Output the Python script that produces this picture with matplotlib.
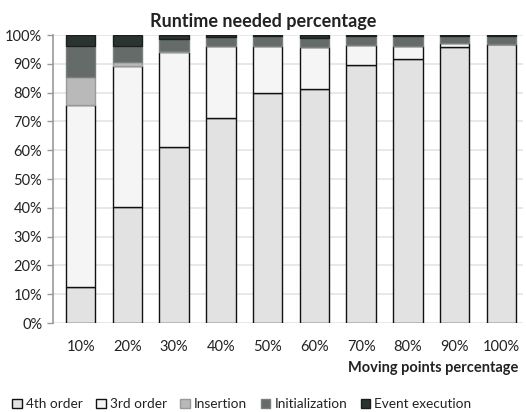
import matplotlib.pyplot as plt
import numpy as np

plt.rcParams['font.family'] = ['Lato', 'DejaVu Sans']

moving = ['10%', '20%', '30%', '40%', '50%', '60%', '70%', '80%', '90%', '100%']
fourth = [12.5, 40.3, 61.1, 71.3, 79.8, 81.4, 89.6, 91.7, 96.0, 96.8]
third = [63.3, 49.0, 33.1, 25.0, 16.5, 14.6, 7.0, 4.6, 1.3, 0.1]
insertion = [9.5, 1.2, 0.3, 0.0, 0.0, 0.0, 0.0, 0.0, 0.0, 0.0]
initialization = [10.9, 5.7, 4.0, 3.1, 3.2, 3.0, 2.9, 3.2, 2.2, 2.6]
event = [3.8, 3.8, 1.5, 0.6, 0.5, 1.0, 0.5, 0.5, 0.5, 0.5]

series = [('4th order', fourth, '#e2e2e2', '#111111'),
          ('3rd order', third, '#f4f5f4', '#111111'),
          ('Insertion', insertion, '#b9b9b9', '#9a9a9a'),
          ('Initialization', initialization, '#646b69', '#7a7f7e'),
          ('Event execution', event, '#2b3331', '#1a1f1e')]

fig = plt.figure(figsize=(5.26, 4.12), dpi=100)
ax = fig.add_axes([0.1, 0.216, 0.895, 0.699])

x = np.arange(len(moving))
bottom = np.zeros(len(moving))
for name, vals, color, edge in series:
    ax.bar(x, vals, 0.63, bottom=bottom, color=color, edgecolor=edge,
           linewidth=1.0, label=name, zorder=3)
    bottom += np.array(vals)

ax.set_ylim(0, 100)
ax.set_xlim(-0.6, 9.47)
ax.set_yticks(np.arange(0, 101, 10))
ax.set_yticklabels([f'{v}%' for v in range(0, 101, 10)], fontsize=10.5, color='#222222')
ax.set_xticks(x)
ax.set_xticklabels(moving, fontsize=10.5, color='#222222')
ax.tick_params(axis='x', length=0, pad=12)
ax.tick_params(axis='y', length=4, color='#999999', width=1)
ax.yaxis.grid(True, color='#e4e4e4', linewidth=1.2, zorder=0)
for s in ['top', 'right', 'bottom']:
    ax.spines[s].set_visible(False)
ax.spines['left'].set_color('#999999')
ax.spines['left'].set_linewidth(1.2)

ax.set_title('Runtime needed percentage', fontsize=13, fontweight='bold',
             color='#222222', pad=6, x=0.447)
fig.text(0.985, 0.108, 'Moving points percentage', ha='right', va='center',
         fontsize=10.5, fontweight='bold', color='#222222')

fig.legend(loc='lower left', bbox_to_anchor=(0.0, -0.025), ncol=5, frameon=False,
           fontsize=9.8, handlelength=0.7, handleheight=0.7, handletextpad=0.3,
           columnspacing=1.0, labelcolor='#222222')

fig.savefig('out.png', dpi=100)
